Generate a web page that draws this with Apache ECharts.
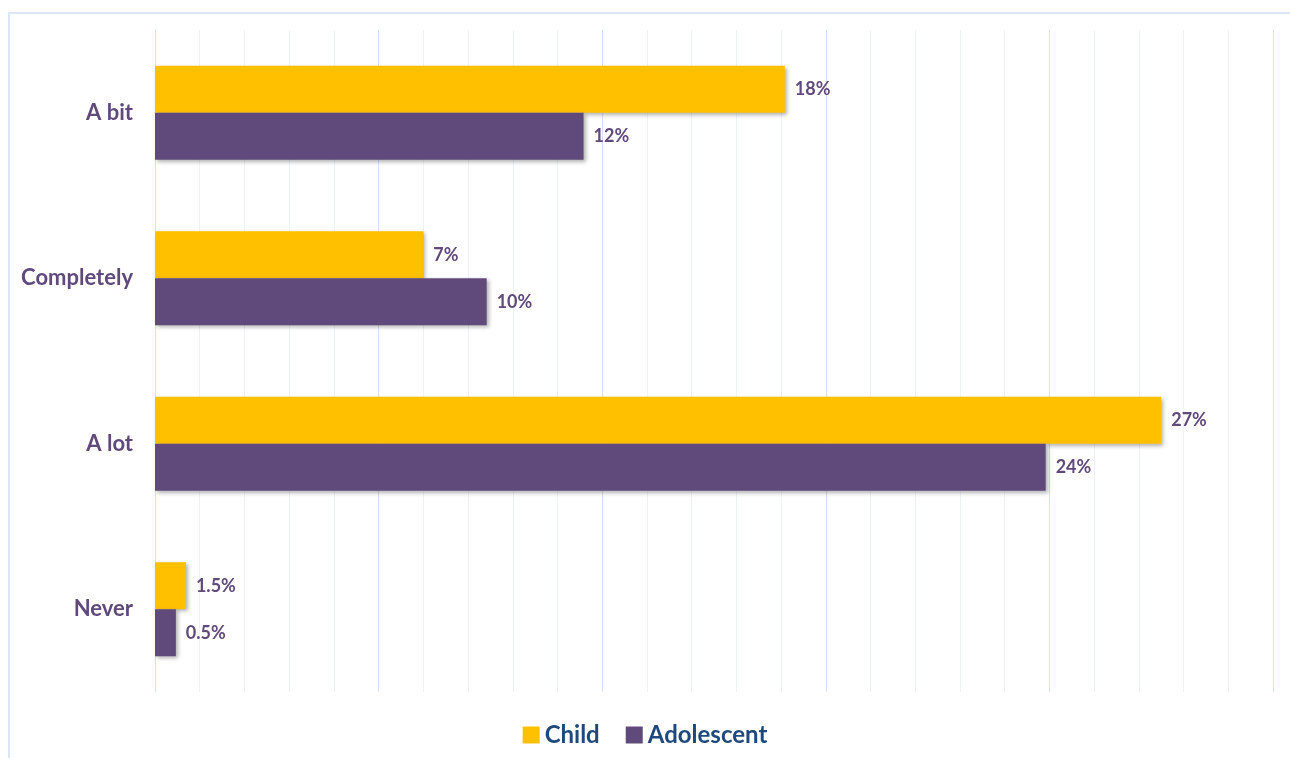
<!DOCTYPE html>
<html>
<head>
<meta charset="utf-8">
<script src="https://cdn.jsdelivr.net/npm/echarts@6/dist/echarts.min.js"></script>
<style>
html,body{margin:0;padding:0;background:#fff;}
#frame{position:absolute;left:8px;top:12px;width:1290px;height:760px;border-top:2px solid #DCE6F4;border-left:2px solid #DCE6F4;}
#chart{position:absolute;left:0;top:0;width:1290px;height:758px;}
</style>
</head>
<body>
<div id="frame"></div>
<div id="chart"></div>
<script>
const categories = ['A bit', 'Completely', 'A lot', 'Never'];
const childValues = [16.9, 7.2, 27.0, 0.83];
const adolescentValues = [11.5, 8.9, 23.9, 0.56];
const childLabels = ['18%', '7%', '27%', '1.5%'];
const adolescentLabels = ['12%', '10%', '24%', '0.5%'];

const chart = echarts.init(document.getElementById('chart'));
const labelStyle = (texts) => ({
  show: true, position: 'right', distance: 10,
  fontFamily: 'Lato', fontWeight: 'bold', fontSize: 18, color: '#604A7B',
  formatter: p => texts[p.dataIndex]
});
const shadow = {shadowBlur: 4, shadowOffsetX: 2, shadowOffsetY: 2, shadowColor: 'rgba(0,0,0,0.3)'};
chart.setOption({
  animation: false,
  grid: {left: 155, right: 17, top: 30, bottom: 66},
  legend: {
    bottom: 6, left: 'center', icon: 'rect', itemWidth: 17, itemHeight: 17, itemGap: 26,
    textStyle: {fontFamily: 'Lato', fontWeight: 'bold', fontSize: 24, color: '#1F497D'},
    data: ['Child', 'Adolescent']
  },
  xAxis: {
    type: 'value', min: 0, max: 30, interval: 6,
    axisLabel: {show: false}, axisTick: {show: false}, axisLine: {show: false},
    splitLine: {show: true, lineStyle: {color: '#D5E2F4', width: 1}},
    minorTick: {show: false, splitNumber: 5},
    minorSplitLine: {show: true, lineStyle: {color: '#EEF3FA', width: 1}}
  },
  yAxis: {
    type: 'category', data: categories, inverse: true,
    axisTick: {show: false},
    axisLine: {show: true, lineStyle: {color: '#D5E2F4', width: 1}},
    axisLabel: {fontFamily: 'Lato', fontWeight: 'bold', fontSize: 22, color: '#604A7B', margin: 22}
  },
  series: [
    {name: 'Child', type: 'bar', data: childValues, barWidth: 47, barGap: '0%',
     itemStyle: Object.assign({color: '#FFC000'}, shadow), label: labelStyle(childLabels)},
    {name: 'Adolescent', type: 'bar', data: adolescentValues, barWidth: 47, barGap: '0%',
     itemStyle: Object.assign({color: '#604A7B'}, shadow), label: labelStyle(adolescentLabels)}
  ]
});
</script>
</body>
</html>
